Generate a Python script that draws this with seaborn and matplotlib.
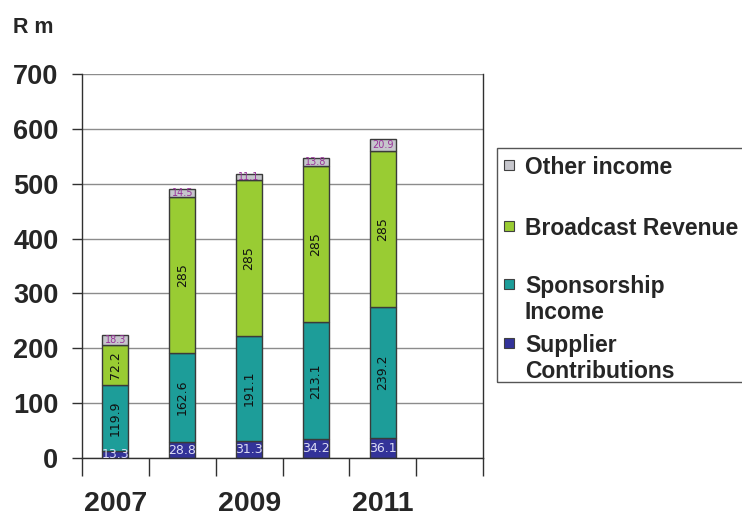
import matplotlib
matplotlib.use('Agg')
import matplotlib.pyplot as plt
import numpy as np
import pandas as pd
import seaborn as sns
from matplotlib.patches import Rectangle

# Revenue by source, R million
YEARS = ['2007', '2008', '2009', '2010', '2011', '2012']
YEAR_LABELS = ['2007', '', '2009', '', '2011', '']
SUPPLIER = [13.3, 28.8, 31.3, 34.2, 36.1]
SPONSORSHIP = [119.9, 162.6, 191.1, 213.1, 239.2]
BROADCAST = [72.2, 285, 285, 285, 285]
OTHER = [18.3, 14.5, 11.1, 13.8, 20.9]

SERIES = ['Supplier', 'Sponsorship', 'Broadcast', 'Other']
LEGEND_LABELS = ['Other income', 'Broadcast Revenue', 'Sponsorship\nIncome', 'Supplier\nContributions']
COLORS = {'Supplier': '#333399', 'Sponsorship': '#1d9d99', 'Broadcast': '#99cc33', 'Other': '#c6c6cc'}
LABEL_COLORS = {'Supplier': '#dcdcf4', 'Sponsorship': '#111111', 'Broadcast': '#111111', 'Other': '#993399'}
LABEL_ROT = {'Supplier': 0, 'Sponsorship': 90, 'Broadcast': 90, 'Other': 0}
LABEL_SIZE = {'Supplier': 9, 'Sponsorship': 9, 'Broadcast': 9, 'Other': 7}

W, H = 742, 518
EDGE = '#3a3a3a'

df = pd.DataFrame({'Year': YEARS[:5], 'Supplier': SUPPLIER, 'Sponsorship': SPONSORSHIP,
                   'Broadcast': BROADCAST, 'Other': OTHER})

sns.set_style('white')
plt.rcParams['font.family'] = ['Liberation Sans', 'DejaVu Sans']
plt.rcParams['font.weight'] = 'bold'

fig = plt.figure(figsize=(W / 100, H / 100), dpi=100)
ax = fig.add_axes([82 / W, 1 - 458 / H, (483 - 82) / W, (458 - 74) / H])

bottom = np.zeros(len(df))
for col in SERIES:
    sns.barplot(data=df, x='Year', y=col, order=YEARS, color=COLORS[col], saturation=1,
                width=0.39, bottom=bottom, edgecolor=EDGE, linewidth=1, errorbar=None, ax=ax)
    ax.bar_label(ax.containers[-1], fmt='%g', label_type='center', rotation=LABEL_ROT[col],
                 fontsize=LABEL_SIZE[col], color=LABEL_COLORS[col], family='DejaVu Sans',
                 fontweight='normal')
    bottom = bottom + df[col].to_numpy()

# axes, ticks between categories, labels on every other year
ax.set_xlim(-0.5, len(YEARS) - 0.5)
ax.set_xticks(np.arange(-0.5, len(YEARS), 1), labels=[''] * (len(YEARS) + 1))
ax.set_xticks(range(len(YEARS)), labels=YEAR_LABELS, minor=True)
ax.tick_params(axis='x', which='major', length=13, width=1, color='#303030', direction='out', bottom=True)
ax.tick_params(axis='x', which='minor', length=0, pad=24, labelsize=20.5)
ax.set_ylim(0, 700)
ax.set_yticks(range(0, 701, 100))
ax.tick_params(axis='y', length=7, width=1, color='#303030', direction='out', left=True, pad=10, labelsize=19.5)
ax.yaxis.grid(True, color='#8c8c8c', lw=1)
ax.set_axisbelow(True)
ax.set_xlabel('')
ax.set_ylabel('')
ax.spines['top'].set_visible(False)
for side in ['left', 'bottom', 'right']:
    ax.spines[side].set_color('#303030')
    ax.spines[side].set_linewidth(1)

fig.text(13 / W, 1 - 33 / H, 'R m', fontsize=15.5, fontweight='bold', va='baseline')

# legend drawn like the original: handle beside the first line of each entry
fig.add_artist(Rectangle((497 / W, 1 - 382 / H), 300 / W, 234 / H, transform=fig.transFigure,
                         fill=False, edgecolor='#555555', lw=1))
legend_y = [165, 226, 284, 343]
for label, col, y in zip(LEGEND_LABELS, SERIES[::-1], legend_y):
    fig.add_artist(Rectangle((504 / W, 1 - (y + 5) / H), 10 / W, 10 / H, transform=fig.transFigure,
                             facecolor=COLORS[col], edgecolor='#404040', lw=0.8))
    fig.text(525 / W, 1 - (y - 9) / H, label, fontsize=16.5, fontweight='bold',
             va='top', linespacing=1.18)

fig.savefig('out.png', dpi=100)
